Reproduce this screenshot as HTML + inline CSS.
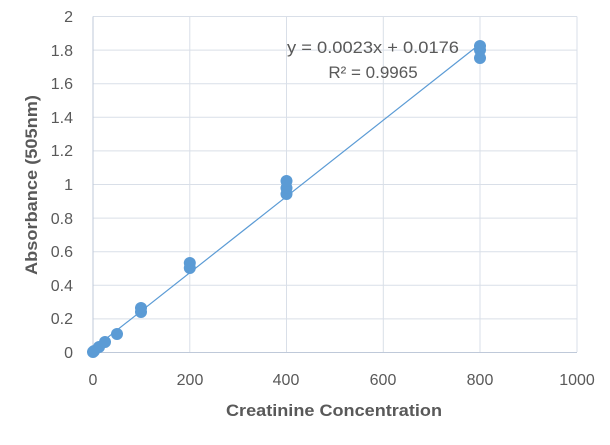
<!DOCTYPE html>
<html><head><meta charset="utf-8"><style>body{margin:0;background:#fff}svg{display:block}text{font-family:"Liberation Sans",sans-serif;fill:#595959}</style></head><body>
<svg width="610" height="445" xmlns="http://www.w3.org/2000/svg">
<g stroke="#d9dfe8" stroke-width="1">
<line x1="93" y1="16.5" x2="577" y2="16.5"/><line x1="93" y1="50.1" x2="577" y2="50.1"/><line x1="93" y1="83.7" x2="577" y2="83.7"/><line x1="93" y1="117.3" x2="577" y2="117.3"/><line x1="93" y1="150.9" x2="577" y2="150.9"/><line x1="93" y1="184.5" x2="577" y2="184.5"/><line x1="93" y1="218.1" x2="577" y2="218.1"/><line x1="93" y1="251.7" x2="577" y2="251.7"/><line x1="93" y1="285.3" x2="577" y2="285.3"/><line x1="93" y1="318.9" x2="577" y2="318.9"/>
<line x1="189.8" y1="16.5" x2="189.8" y2="352"/><line x1="286.5" y1="16.5" x2="286.5" y2="352"/><line x1="383.3" y1="16.5" x2="383.3" y2="352"/><line x1="480" y1="16.5" x2="480" y2="352"/><line x1="577" y1="16.5" x2="577" y2="352"/>
</g>
<g stroke="#bfc9d9"><line x1="93" y1="16.5" x2="93" y2="352"/><line x1="93" y1="352.5" x2="577" y2="352.5"/></g>
<g font-size="16" text-anchor="end">
<text x="73" y="22">2</text><text x="73" y="56">1.8</text><text x="73" y="89">1.6</text><text x="73" y="123">1.4</text><text x="73" y="156">1.2</text><text x="73" y="190">1</text><text x="73" y="224">0.8</text><text x="73" y="257">0.6</text><text x="73" y="291">0.4</text><text x="73" y="324">0.2</text><text x="73" y="358">0</text>
</g>
<g font-size="16" text-anchor="middle">
<text x="93" y="385">0</text><text x="190" y="385">200</text><text x="286" y="385">400</text><text x="383" y="385">600</text><text x="480" y="385">800</text><text x="577" y="385">1000</text>
</g>
<text x="334" y="416" font-size="17" font-weight="bold" text-anchor="middle" textLength="216" lengthAdjust="spacingAndGlyphs">Creatinine Concentration</text>
<text transform="translate(37,185) rotate(-90)" font-size="17" font-weight="bold" text-anchor="middle" textLength="180" lengthAdjust="spacingAndGlyphs">Absorbance (505nm)</text>
<line x1="93" y1="349" x2="480" y2="44" stroke="#5b9bd5" stroke-width="1.2"/>
<g fill="#5b9bd5">
<circle cx="93" cy="352" r="6"/><circle cx="94" cy="351" r="6"/><circle cx="99" cy="347" r="6"/><circle cx="105" cy="342" r="6"/><circle cx="117" cy="334" r="6"/><circle cx="141" cy="312" r="6"/><circle cx="141" cy="308" r="6"/><circle cx="189.8" cy="268" r="6"/><circle cx="189.8" cy="263" r="6"/><circle cx="286.5" cy="194" r="6"/><circle cx="286.5" cy="188" r="6"/><circle cx="286.5" cy="181" r="6"/><circle cx="480" cy="58" r="6"/><circle cx="480" cy="50" r="6"/><circle cx="480" cy="46" r="6"/>
</g>
<text x="373" y="53" font-size="17" text-anchor="middle" textLength="172" lengthAdjust="spacingAndGlyphs">y = 0.0023x + 0.0176</text>
<text x="373" y="78" font-size="17" text-anchor="middle">R² = 0.9965</text>
</svg>
</body></html>
